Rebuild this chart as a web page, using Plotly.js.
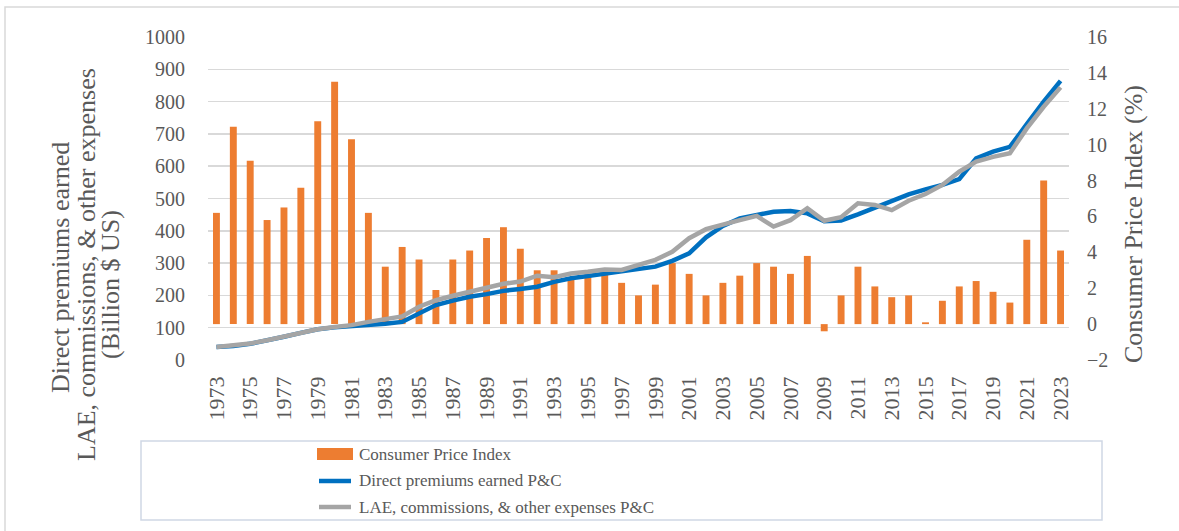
<!DOCTYPE html>
<html>
<head>
<meta charset="utf-8">
<script src="https://cdn.plot.ly/plotly-3.0.1.min.js"></script>
<style>html,body{margin:0;padding:0;background:#fff;}#chart{width:1179px;height:531px;}</style>
</head>
<body>
<div id="chart"></div>
<script>
const years = ["1973","1974","1975","1976","1977","1978","1979","1980","1981","1982",
  "1983","1984","1985","1986","1987","1988","1989","1990","1991","1992",
  "1993","1994","1995","1996","1997","1998","1999","2000","2001","2002",
  "2003","2004","2005","2006","2007","2008","2009","2010","2011","2012",
  "2013","2014","2015","2016","2017","2018","2019","2020","2021","2022","2023"];
const cpi = [6.2,11.0,9.1,5.8,6.5,7.6,11.3,13.5,10.3,6.2,
  3.2,4.3,3.6,1.9,3.6,4.1,4.8,5.4,4.2,3.0,
  3.0,2.6,2.8,3.0,2.3,1.6,2.2,3.4,2.8,1.6,
  2.3,2.7,3.4,3.2,2.8,3.8,-0.4,1.6,3.2,2.1,
  1.5,1.6,0.1,1.3,2.1,2.4,1.8,1.2,4.7,8.0,4.1];
const premiums = [40,43,50,60,72,84,95,101,104,108,
  112,118,145,170,184,196,204,214,220,227,
  242,253,260,268,275,282,289,307,330,380,
  415,438,449,459,461,454,430,432,451,472,
  490,513,528,542,560,624,645,660,730,800,864];
const expenses = [40,44,51,61,73,85,95,102,108,118,
  126,135,165,185,199,211,225,236,243,261,
  256,268,273,280,279,296,310,335,377,405,
  420,433,446,413,433,470,431,442,485,480,
  464,493,514,542,583,614,629,640,717,784,844];
const tickYears = ["1973","1975","1977","1979","1981","1983","1985","1987","1989","1991",
  "1993","1995","1997","1999","2001","2003","2005","2007","2009","2011",
  "2013","2015","2017","2019","2021","2023"];
const seriesNames = ["Consumer Price Index","Direct premiums earned P&C","LAE, commissions, & other expenses P&C"];
const leftTitleLines = ["Direct premiums earned","LAE, commissions, & other expenses","(Billion $ US)"];
const rightTitle = "Consumer Price Index (%)";

const FONT = "Liberation Serif";
const TXT = "#595959";
const W = 1179, H = 531;
const L = 208, R = 1069, T = 37, B = 360;
const px = x => (x - L) / (R - L);
const py = y => (B - y) / (B - T);

const traces = [
  {type:'bar', x: years, y: cpi, name: seriesNames[0], yaxis:'y', xaxis:'x',
   marker:{color:'#ED7D31'}},
  {type:'scatter', mode:'lines', x: years, y: premiums, name: seriesNames[1], yaxis:'y2',
   line:{color:'#0070C0', width:4.5}},
  {type:'scatter', mode:'lines', x: years, y: expenses, name: seriesNames[2], yaxis:'y2',
   line:{color:'#A5A5A5', width:4.5}}
];

const legX0 = 317, legX1 = 353, legText = 357;
const legRows = [454, 481, 507];
const leftTitleX = [60, 86, 110];
const leftTitleY = [268, 265, 285];

const layout = {
  width: W, height: H,
  margin: {l: L, r: W - R, t: T, b: H - B, pad: 0},
  paper_bgcolor: '#fff', plot_bgcolor: 'rgba(0,0,0,0)',
  showlegend: false,
  bargap: 0.59,
  font: {family: FONT, color: TXT, size: 20},
  xaxis: {type:'category', tickmode:'array', tickvals: tickYears, ticktext: tickYears,
    tickangle: -90, tickfont:{family: FONT, size: 22, color: TXT},
    showgrid:false, zeroline:false, showline:false, ticks:'', automargin:false,
    ticklabelstandoff: 11},
  yaxis: {side:'right', range:[-2,16], dtick:2, tick0:-2, showgrid:false, zeroline:false,
    showline:false, ticks:'', tickfont:{family: FONT, size: 20, color: TXT}, automargin:false,
    ticklabelstandoff: 17},
  yaxis2: {side:'left', overlaying:'y', range:[0,1000], dtick:100, showgrid:true,
    gridcolor:'#D9D9D9', gridwidth:1.5, zeroline:false, showline:false, ticks:'',
    tickfont:{family: FONT, size: 20, color: TXT}, automargin:false, ticklabelstandoff: 22},
  shapes: [
    {type:'rect', xref:'paper', yref:'paper', x0: px(5), x1: px(1185), y0: py(545), y1: py(7),
     line:{color:'#D9D9D9', width:1.5}, fillcolor:'rgba(0,0,0,0)', layer:'below'},
    {type:'rect', xref:'paper', yref:'paper', x0: px(141), x1: px(1102), y0: py(520), y1: py(441),
     line:{color:'#D0D7E5', width:1.5}, fillcolor:'rgba(0,0,0,0)'},
    {type:'rect', xref:'paper', yref:'paper', x0: px(legX0), x1: px(legX1), y0: py(legRows[0]+6), y1: py(legRows[0]-6),
     line:{width:0}, fillcolor:'#ED7D31'},
    {type:'line', xref:'paper', yref:'paper', x0: px(legX0+2), x1: px(legX1-2), y0: py(legRows[1]), y1: py(legRows[1]),
     line:{color:'#0070C0', width:4.5}},
    {type:'line', xref:'paper', yref:'paper', x0: px(legX0+2), x1: px(legX1-2), y0: py(legRows[2]), y1: py(legRows[2]),
     line:{color:'#A5A5A5', width:4.5}}
  ],
  annotations: leftTitleLines.map((t, i) => ({
     text: t, xref:'paper', yref:'paper', x: px(leftTitleX[i]), y: py(leftTitleY[i]), textangle:-90,
     showarrow:false, xanchor:'center', yanchor:'middle', font:{family: FONT, size: 26, color: TXT}
  })).concat([
    {text: rightTitle, xref:'paper', yref:'paper', x: px(1133), y: py(224), textangle:-90,
     showarrow:false, xanchor:'center', yanchor:'middle', font:{family: FONT, size: 26, color: TXT}}
  ]).concat(seriesNames.map((n, i) => ({
     text: n, xref:'paper', yref:'paper', x: px(legText), y: py(legRows[i]), showarrow:false,
     xanchor:'left', yanchor:'middle', font:{family: FONT, size: 17, color: TXT}
  })))
};

Plotly.newPlot('chart', traces, layout, {displayModeBar:false, staticPlot:true});
</script>
</body>
</html>
